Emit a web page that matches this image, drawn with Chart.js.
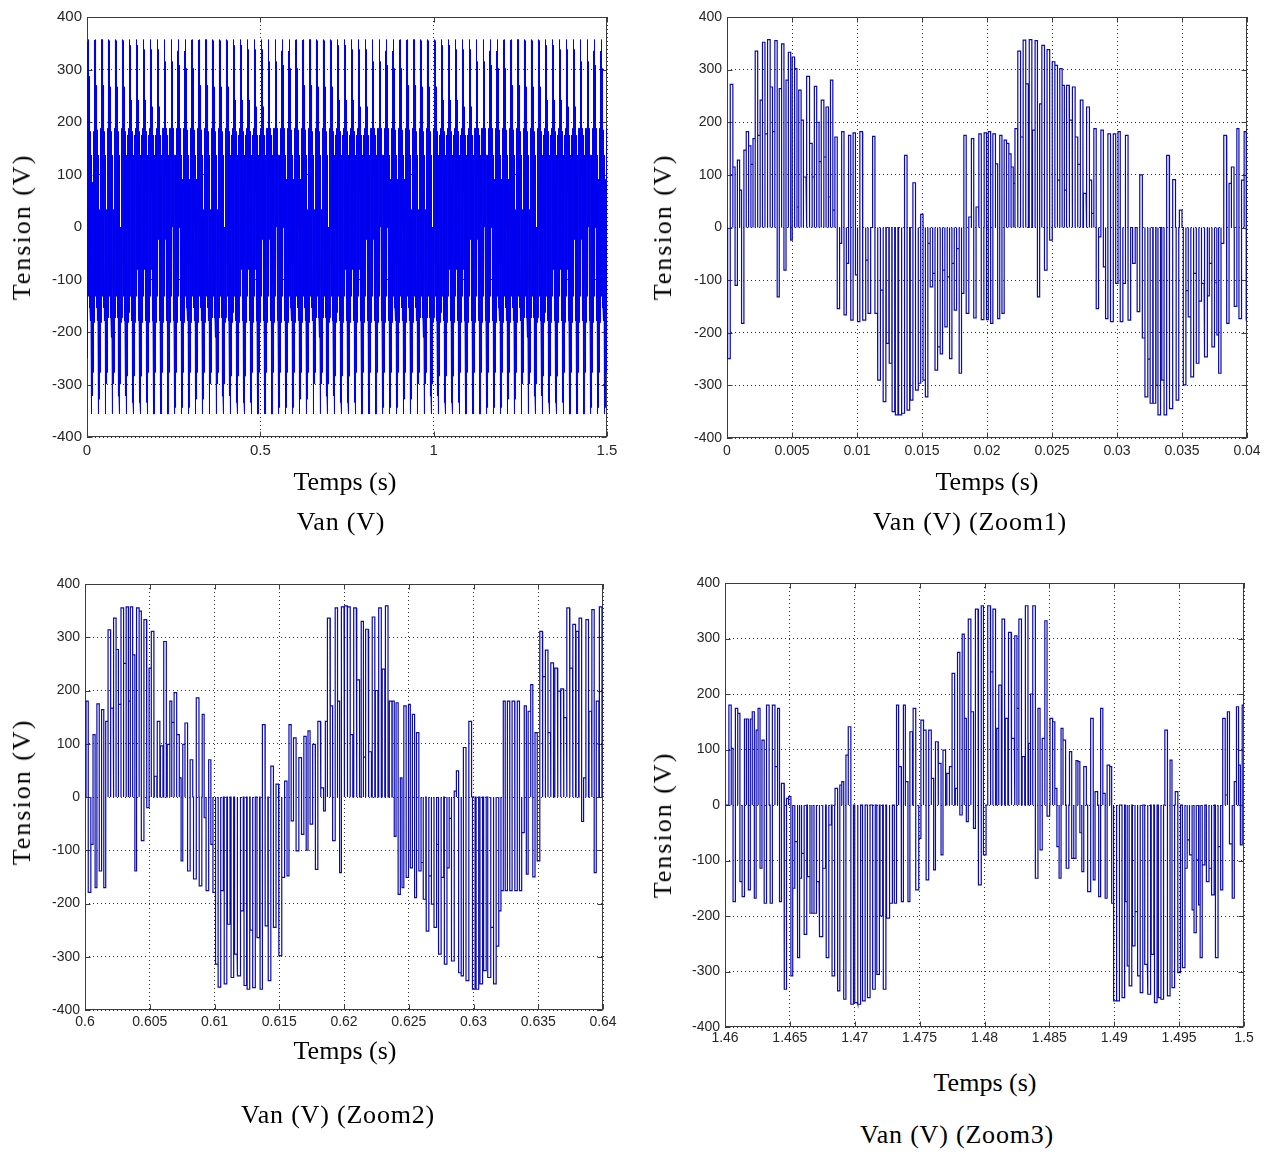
<!DOCTYPE html>
<html>
<head>
<meta charset="utf-8">
<title>Van (V)</title>
<script src="https://cdn.jsdelivr.net/npm/chart.js@4.4.1/dist/chart.umd.min.js"></script>
<style>
  html, body { margin: 0; padding: 0; background: #fff; }
  body { width: 1275px; height: 1154px; position: relative; overflow: hidden; }
  canvas { position: absolute; }
  .lbl {
    position: absolute;
    font-family: "Liberation Serif", "Times New Roman", serif;
    font-size: 26px;
    color: #000;
    white-space: nowrap;
    transform: translate(-50%, -50%);
  }
  .ylbl { transform: translate(-50%, -50%) rotate(-90deg); letter-spacing: 2px; }
  .ttl { letter-spacing: 0.8px; }
</style>
</head>
<body>
<canvas id="chartA" width="640" height="470" style="left:0;top:0"></canvas>
<canvas id="chartB" width="635" height="470" style="left:640px;top:0"></canvas>
<canvas id="chartC" width="640" height="500" style="left:0;top:560px"></canvas>
<canvas id="chartD" width="635" height="500" style="left:640px;top:560px"></canvas>

<div class="lbl ylbl" style="left:22px;top:227px">Tension (V)</div>
<div class="lbl" style="left:345px;top:482px">Temps (s)</div>
<div class="lbl ttl" style="left:341px;top:522px">Van (V)</div>

<div class="lbl ylbl" style="left:663px;top:227px">Tension (V)</div>
<div class="lbl" style="left:987px;top:482px">Temps (s)</div>
<div class="lbl ttl" style="left:970px;top:522px">Van (V) (Zoom1)</div>

<div class="lbl ylbl" style="left:22px;top:792px">Tension (V)</div>
<div class="lbl" style="left:345px;top:1051px">Temps (s)</div>
<div class="lbl ttl" style="left:338px;top:1115px">Van (V) (Zoom2)</div>

<div class="lbl ylbl" style="left:663px;top:825px">Tension (V)</div>
<div class="lbl" style="left:985px;top:1083px">Temps (s)</div>
<div class="lbl ttl" style="left:957px;top:1135px">Van (V) (Zoom3)</div>

<script>
// ---- Phase voltage Van of the PWM inverter ----
// Each pulse is [time in ms from the window start, level in V];
// the voltage leaves 0 V, holds the level for one switching slot and returns to 0 V.

// Window 0 .. 0.04 s, first fundamental cycle (start-up)
const zoom1FirstCycle = [
  [0.05,-249],[0.25,272],[0.45,115],[0.62,-110],[0.8,128],[0.97,71],[1.12,-182],[1.3,147],[1.48,182],
  [1.66,155],[1.84,120],[2.0,169],[2.17,335],[2.36,175],[2.55,242],[2.73,352],[2.92,178],[3.12,357],
  [3.32,267],[3.5,182],[3.68,355],[3.86,-132],[4.02,264],[4.2,349],[4.38,-81],[4.54,280],[4.72,333],
  [4.9,-24],[5.02,324],[5.2,302],[5.38,39],[5.52,261],[5.7,204],[5.88,96],[6.15,287],[6.35,160],
  [6.55,96],[6.72,268],[6.9,200],[7.08,125],[7.25,242],[7.45,134],[7.62,229],[7.8,58],[7.96,280],
  [8.14,33],[8.3,172],[8.48,-154],[8.66,-30],[8.82,182],[9.0,-166],[9.18,-68],[9.35,175],[9.52,-176],
  [9.7,180],[9.88,-90],[10.04,-179],[10.22,182],[10.45,-176],[10.68,-62],[10.85,-163],[11.2,173],
  [11.38,-163],[11.6,-290],[11.8,-119],[12.02,-331],[12.25,-220],[12.48,-258],[12.7,-350],[12.95,-356],
  [13.2,-356],[13.45,-353],[13.66,137],[13.85,-347],[14.1,-328],[14.3,85],[14.5,-309],[14.72,-296],
  [14.9,25],[15.08,-290],[15.26,-322],[15.45,-30],[15.63,-113],[15.82,-87],[16.0,-271],[16.2,-227],
  [16.4,-240],[16.58,-81],[16.76,-189],[16.94,-94],[17.12,-249],[17.3,-68],[17.48,-157],[17.66,-40],
  [17.86,-277],[18.04,-125],[18.22,175],[18.4,-163],[18.6,20],[18.8,169],[18.98,-172],[19.16,39],
  [19.38,178],[19.56,-175],[19.78,180],[19.96,-175]
];

// Window 0 .. 0.04 s, second fundamental cycle (steady state)
const zoom1SecondCycle = [
  [20.1,182],[20.28,-182],[20.45,178],[20.65,121],[20.82,-173],[20.98,175],[21.15,-163],[21.32,166],
  [21.5,160],[21.68,140],[21.85,115],[22.02,84],[22.15,188],[22.38,335],[22.58,172],[22.78,356],
  [22.98,273],[23.25,357],[23.5,185],[23.7,355],[23.88,-132],[24.05,235],[24.22,346],[24.42,-81],
  [24.62,338],[24.82,-24],[25.02,315],[25.22,308],[25.42,90],[25.6,302],[25.78,270],[25.95,71],
  [26.12,270],[26.35,204],[26.58,267],[26.78,172],[26.98,120],[27.18,242],[27.42,65],[27.68,229],
  [27.88,90],[28.05,27],[28.22,188],[28.4,-154],[28.58,-18],[28.76,185],[28.95,-75],[29.12,-173],
  [29.3,178],[29.5,-179],[29.72,178],[29.9,-106],[30.08,182],[30.25,-179],[30.45,-106],[30.65,175],
  [30.85,-176],[31.2,-68],[31.55,-160],[31.75,100],[31.95,-210],[32.15,-322],[32.38,-250],[32.55,-334],
  [32.78,-334],[33.0,-300],[33.15,-356],[33.45,-290],[33.62,-356],[33.82,137],[34.05,-344],[34.3,91],
  [34.55,-328],[34.8,33],[35.1,-299],[35.3,-120],[35.48,-170],[35.68,-284],[35.9,-87],[36.1,-258],
  [36.3,-140],[36.5,-106],[36.75,-246],[36.95,-130],[37.1,-68],[37.3,-227],[37.5,-105],[37.68,-204],
  [37.82,-277],[38.0,-30],[38.22,175],[38.45,-182],[38.62,84],[38.8,115],[39.02,-150],[39.22,188],
  [39.38,-173],[39.58,90],[39.78,182],[39.94,-176]
];

// Window 0.60 .. 0.64 s
const zoom2Pulses = [
  [0.08,180],[0.25,-179],[0.45,-89],[0.62,117],[0.78,-170],[0.92,175],[1.1,-139],[1.28,164],[1.45,-170],
  [1.6,142],[1.78,314],[1.98,167],[2.22,336],[2.4,277],[2.58,174],[2.78,355],[2.98,251],[3.18,357],
  [3.35,180],[3.5,357],[3.68,267],[3.85,-139],[3.98,355],[4.18,349],[4.35,-82],[4.55,333],[4.78,-20],
  [4.95,242],[5.12,311],[5.35,39],[5.58,142],[5.82,96],[6.08,292],[6.35,99],[6.55,180],[6.7,140],
  [6.88,196],[7.08,117],[7.28,36],[7.42,-120],[7.55,99],[7.72,139],[7.92,-139],[8.12,70],[8.38,-154],
  [8.6,186],[8.82,-167],[9.05,155],[9.2,-39],[9.35,-176],[9.55,70],[9.72,-89],[9.88,-179],[10.08,-314],
  [10.28,-357],[10.48,-176],[10.75,-351],[11.0,-239],[11.28,-339],[11.55,-295],[11.78,-336],[12.02,-214],
  [12.28,-354],[12.52,-361],[12.75,-250],[12.95,-358],[13.28,-264],[13.52,-361],[13.7,136],[13.92,-242],
  [14.15,-345],[14.35,58],[14.55,-245],[14.75,24],[14.98,-298],[15.2,-151],[15.42,30],[15.6,-148],
  [15.75,136],[15.92,-45],[16.1,111],[16.3,-101],[16.52,74],[16.72,-70],[16.9,114],[17.08,-100],
  [17.22,124],[17.38,-51],[17.58,99],[17.8,-136],[17.98,142],[18.22,17],[18.42,-26],[18.56,142],
  [18.72,336],[18.95,171],[19.12,-82],[19.32,355],[19.5,180],[19.66,-142],[19.8,357],
  [20.05,359],[20.28,357],[20.48,117],[20.75,355],[21.0,220],[21.33,330],[21.5,75],[21.67,315],
  [21.92,85],[22.18,338],[22.42,200],[22.68,355],[22.95,240],[23.2,359],[23.5,180],[23.72,180],
  [23.88,-74],[24.02,177],[24.18,-183],[24.35,36],[24.48,-170],[24.62,171],[24.8,-151],[24.98,174],
  [25.12,-133],[25.28,155],[25.45,-189],[25.6,121],[25.78,-139],[25.95,-123],[26.12,-192],[26.35,-252],
  [26.55,-148],[26.75,-201],[26.95,-245],[27.15,-89],[27.3,-295],[27.5,-151],[27.75,-314],[27.95,-133],
  [28.12,-40],[28.3,-308],[28.52,11],[28.68,49],[28.85,-330],[29.05,-336],[29.22,93],[29.42,-345],
  [29.65,142],[29.92,-361],[30.2,-361],[30.5,-351],[30.78,-326],[31.1,-339],[31.35,-245],[31.55,-351],
  [31.75,-280],[31.95,-214],[32.12,-176],[32.3,180],[32.45,-176],[32.62,180],[32.8,-176],[32.98,180],
  [33.2,-176],[33.38,180],[33.55,-176],[33.72,-67],[33.92,171],[34.08,-145],[34.22,161],[34.42,211],
  [34.58,-150],[34.75,121],[34.92,-120],[35.12,311],[35.35,226],[35.55,276],[35.75,121],[35.98,252],
  [36.28,242],[36.52,199],[36.75,203],[36.98,149],[37.22,355],[37.45,242],[37.68,324],[37.92,311],
  [38.15,336],[38.35,-46],[38.5,36],[38.68,333],[38.92,161],[39.15,352],[39.32,-142],[39.48,180],
  [39.72,357],[39.92,180]
];

// Window 1.46 .. 1.50 s
const zoom3Pulses = [
  [0.3,180],[0.48,102],[0.62,-174],[0.8,174],[0.98,165],[1.15,-138],[1.32,-165],[1.5,155],[1.65,155],
  [1.8,-153],[1.95,155],[2.1,168],[2.26,-168],[2.4,135],[2.55,174],[2.7,-114],[2.85,117],[3.02,-177],
  [3.2,180],[3.48,-177],[3.65,180],[3.85,69],[4.05,174],[4.2,-174],[4.35,39],[4.58,-332],[4.74,12],
  [4.9,15],[5.08,-308],[5.22,-150],[5.38,-66],[5.6,-275],[5.75,-132],[5.9,-87],[6.1,-233],[6.35,-129],
  [6.55,-195],[6.7,-195],[6.86,-195],[7.05,-138],[7.3,-237],[7.55,-114],[7.8,-275],[8.0,-36],
  [8.25,-308],[8.48,30],[8.68,-335],[8.85,36],[9.0,42],[9.15,-350],[9.32,90],[9.5,141],[9.7,-359],
  [10.0,-356],[10.25,-359],[10.6,-353],[10.98,-347],[11.38,-332],[11.7,-305],[11.95,-200],[12.2,-332],
  [12.45,-204],[12.7,-177],[13.05,-177],[13.22,180],[13.38,69],[13.6,-174],[13.75,180],[13.9,42],
  [14.1,-174],[14.25,132],[14.5,174],[14.7,-153],[14.95,-60],[15.1,153],[15.3,135],[15.5,-135],
  [15.7,135],[15.9,48],[16.08,-117],[16.22,114],[16.45,75],[16.65,-90],[16.8,99],[17.1,57],[17.3,69],
  [17.5,237],[17.75,30],[17.92,275],[18.1,-18],[18.28,308],[18.44,156],[18.6,-30],[18.75,335],
  [18.95,168],[19.15,-42],[19.3,353],[19.55,-144],[19.75,359],[19.92,-90],
  [20.25,359],[20.48,240],[20.65,353],[20.95,138],[21.1,216],[21.35,335],[21.6,156],[21.85,311],
  [22.1,120],[22.35,305],[22.5,174],[22.65,335],[22.9,87],[23.15,359],[23.4,111],[23.55,200],
  [23.72,359],[23.92,-132],[24.12,174],[24.28,-81],[24.45,120],[24.65,332],[24.82,-20],[25.05,156],
  [25.25,150],[25.42,30],[25.58,-75],[25.75,-132],[25.9,138],[26.05,117],[26.3,-114],[26.55,96],
  [26.72,-96],[26.88,-96],[27.05,80],[27.2,78],[27.35,-50],[27.5,-120],[27.65,69],[27.95,-156],
  [28.2,156],[28.38,-135],[28.52,24],[28.8,-165],[28.95,174],[29.12,21],[29.3,-168],[29.45,72],
  [29.65,69],[29.8,-177],[29.95,-353],[30.2,-353],[30.6,-347],[30.85,-174],[31.0,-290],[31.15,-326],
  [31.4,-254],[31.6,-192],[31.8,-308],[32.0,-338],[32.35,-287],[32.6,-341],[32.85,-269],[33.1,-356],
  [33.4,-347],[33.6,-350],[33.9,135],[34.1,-344],[34.3,81],[34.45,-329],[34.7,24],[34.9,-302],
  [35.25,-293],[35.45,-114],[35.62,-63],[35.8,-90],[36.0,-189],[36.15,-230],[36.32,-99],[36.5,-180],
  [36.62,-275],[36.78,-108],[37.1,-138],[37.3,-114],[37.5,-162],[37.8,-275],[38.0,-75],[38.2,-153],
  [38.36,156],[38.55,18],[38.72,168],[38.88,-70],[39.1,-168],[39.25,42],[39.42,177],[39.58,72],
  [39.72,-72],[39.86,180]
];

// Window start / end times (s)
const zoom1Window = [0, 0.04];
const zoom2Window = [0.6, 0.64];
const zoom3Window = [1.46, 1.5];
const overviewWindow = [0, 1.5];

// Fundamental period (s): the steady cycle repeats over the whole 1.5 s run
const fundamentalPeriod = 0.02;
const overviewCycles = 75;

// Axis ticks
const voltTicks = [-400, -300, -200, -100, 0, 100, 200, 300, 400];
const voltLabels = ['-400', '-300', '-200', '-100', '0', '100', '200', '300', '400'];
const overviewTimeTicks = [0, 0.5, 1, 1.5];
const overviewTimeLabels = ['0', '0.5', '1', '1.5'];
const zoom1TimeTicks = [0, 0.005, 0.01, 0.015, 0.02, 0.025, 0.03, 0.035, 0.04];
const zoom1TimeLabels = ['0', '0.005', '0.01', '0.015', '0.02', '0.025', '0.03', '0.035', '0.04'];
const zoom2TimeTicks = [0.6, 0.605, 0.61, 0.615, 0.62, 0.625, 0.63, 0.635, 0.64];
const zoom2TimeLabels = ['0.6', '0.605', '0.61', '0.615', '0.62', '0.625', '0.63', '0.635', '0.64'];
const zoom3TimeTicks = [1.46, 1.465, 1.47, 1.475, 1.48, 1.485, 1.49, 1.495, 1.5];
const zoom3TimeLabels = ['1.46', '1.465', '1.47', '1.475', '1.48', '1.485', '1.49', '1.495', '1.5'];

// ---- trace building ----
const SLOT_MS = 0.2; // time one switching state is held

function appendPulses(points, startS, pulses) {
  const sorted = pulses.slice().sort((a, b) => a[0] - b[0]);
  sorted.forEach(([ms, v], i) => {
    const t0 = startS + ms / 1000;
    let t1 = t0 + SLOT_MS / 1000;
    if (i + 1 < sorted.length) t1 = Math.min(t1, startS + sorted[i + 1][0] / 1000);
    points.push({x: t0, y: 0}, {x: t0, y: v}, {x: t1, y: v}, {x: t1, y: 0});
  });
}

function windowTrace(win, pulses) {
  const pts = [{x: win[0], y: 0}];
  appendPulses(pts, win[0], pulses);
  pts.push({x: win[1], y: 0});
  return pts;
}

const zoom1Trace = windowTrace(zoom1Window, zoom1FirstCycle.concat(zoom1SecondCycle));
const zoom2Trace = windowTrace(zoom2Window, zoom2Pulses);
const zoom3Trace = windowTrace(zoom3Window, zoom3Pulses);

// whole run: start-up cycle, then the steady cycle once per fundamental period
const overviewTrace = [{x: 0, y: 0}];
appendPulses(overviewTrace, 0, zoom1FirstCycle);
for (let k = 1; k < overviewCycles; k++) {
  appendPulses(overviewTrace, (k - 1) * fundamentalPeriod, zoom1SecondCycle);
}
overviewTrace.push({x: overviewWindow[1], y: 0});

// ---- axes frame: full box + inward tick marks ----
const framePlugin = {
  id: 'frame',
  beforeDatasetsDraw(chart) {
    const {ctx, chartArea: a, scales} = chart;
    const L = Math.round(a.left) + 0.5, R = Math.round(a.right) - 0.5;
    const T = Math.round(a.top) + 0.5, B = Math.round(a.bottom) - 0.5;
    ctx.save();
    ctx.strokeStyle = '#3c3c3c';
    ctx.lineWidth = 1;
    ctx.strokeRect(L, T, R - L, B - T);
    ctx.beginPath();
    scales.x.ticks.forEach(t => {
      const px = Math.round(scales.x.getPixelForValue(t.value)) + 0.5;
      ctx.moveTo(px, B); ctx.lineTo(px, B - 5);
      ctx.moveTo(px, T); ctx.lineTo(px, T + 5);
    });
    scales.y.ticks.forEach(t => {
      const py = Math.round(scales.y.getPixelForValue(t.value)) + 0.5;
      ctx.moveTo(L, py); ctx.lineTo(L + 5, py);
      ctx.moveTo(R, py); ctx.lineTo(R - 5, py);
    });
    ctx.stroke();
    ctx.restore();
  }
};

function makeChart(id, o) {
  const tickFont = {family: "'Liberation Sans', Arial, sans-serif", size: o.fontSize};
  return new Chart(document.getElementById(id), {
    type: 'line',
    data: {
      datasets: [{
        data: o.trace,
        parsing: false,
        borderColor: o.color,
        borderWidth: o.lineWidth,
        pointRadius: 0,
        fill: false,
        tension: 0
      }]
    },
    options: {
      responsive: false,
      animation: false,
      events: [],
      devicePixelRatio: 1,
      layout: {padding: {top: o.padTop, right: o.padRight, left: 0, bottom: 0}},
      plugins: {legend: {display: false}, tooltip: {enabled: false}},
      scales: {
        x: {
          type: 'linear',
          min: o.win[0],
          max: o.win[1],
          afterBuildTicks: s => { s.ticks = o.xTicks.map(v => ({value: v})); },
          afterFit: s => { s.height = o.xHeight; },
          ticks: {
            autoSkip: false, maxRotation: 0, minRotation: 0,
            padding: o.xPad, color: '#262626', font: tickFont,
            callback: (v, i) => o.xLabels[i]
          },
          grid: {color: '#303030', lineWidth: 1, drawTicks: false},
          border: {display: false, dash: [1, 3]}
        },
        y: {
          type: 'linear',
          min: -400,
          max: 400,
          afterBuildTicks: s => { s.ticks = voltTicks.map(v => ({value: v})); },
          afterFit: s => { s.width = o.yWidth; },
          ticks: {
            autoSkip: false, padding: 5, color: '#262626', font: tickFont,
            callback: (v, i) => voltLabels[i]
          },
          grid: {color: '#303030', lineWidth: 1, drawTicks: false},
          border: {display: false, dash: [1, 3]}
        }
      }
    },
    plugins: [framePlugin]
  });
}

makeChart('chartA', {trace: overviewTrace, win: overviewWindow, xTicks: overviewTimeTicks, xLabels: overviewTimeLabels,
  color: '#0000f0', lineWidth: 1, fontSize: 15, padTop: 17, padRight: 33, yWidth: 87, xHeight: 33, xPad: 5});
makeChart('chartB', {trace: zoom1Trace, win: zoom1Window, xTicks: zoom1TimeTicks, xLabels: zoom1TimeLabels,
  color: '#0a0ab0', lineWidth: 1.2, fontSize: 14, padTop: 17, padRight: 28, yWidth: 87, xHeight: 32, xPad: 5});
makeChart('chartC', {trace: zoom2Trace, win: zoom2Window, xTicks: zoom2TimeTicks, xLabels: zoom2TimeLabels,
  color: '#0a0ab0', lineWidth: 1.2, fontSize: 14, padTop: 24, padRight: 37, yWidth: 85, xHeight: 50, xPad: 4});
makeChart('chartD', {trace: zoom3Trace, win: zoom3Window, xTicks: zoom3TimeTicks, xLabels: zoom3TimeLabels,
  color: '#0a0ab0', lineWidth: 1.2, fontSize: 14, padTop: 23, padRight: 31, yWidth: 85, xHeight: 33, xPad: 3});
</script>
</body>
</html>
